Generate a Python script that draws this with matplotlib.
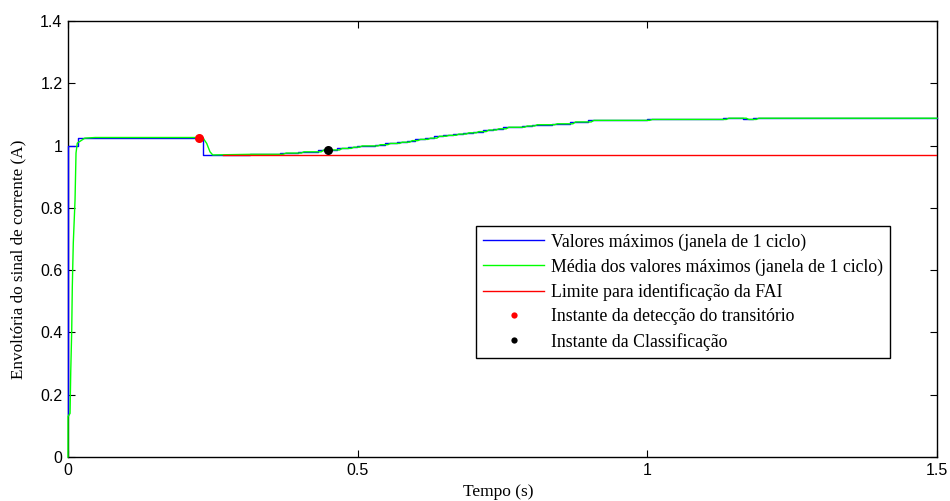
import numpy as np
import matplotlib.pyplot as plt
from matplotlib.lines import Line2D

# envelope maxima per cycle (blue), step start times and levels
t_max = [0.0, 0.0, 0.0168, 0.2307, 0.2336, 0.2336, 0.3142, 0.366, 0.3976, 0.4321,
         0.4638, 0.484, 0.4983, 0.530, 0.5472, 0.5674, 0.5847, 0.599, 0.6163,
         0.6318, 0.6479, 0.6651, 0.6824, 0.6996, 0.7169, 0.7342, 0.7514, 0.7832,
         0.8004, 0.835, 0.8666, 0.8982, 0.999, 1.1312, 1.1657, 1.183, 1.5]
v_max = [0.135, 1.0, 1.026, 1.026, 1.0, 0.970, 0.972, 0.976, 0.980, 0.986,
         0.991, 0.995, 0.999, 1.003, 1.007, 1.011, 1.016, 1.020, 1.024,
         1.030, 1.033, 1.037, 1.041, 1.045, 1.050, 1.054, 1.059, 1.063,
         1.067, 1.070, 1.076, 1.081, 1.084, 1.088, 1.084, 1.088, 1.088]

# mean of the maxima (green)
t_med = [0.0, 0.0, 0.0035, 0.0047, 0.0064, 0.0074, 0.0091, 0.0121, 0.0138, 0.016,
         0.029, 0.047, 0.2325, 0.2394, 0.2451, 0.2498, 0.3142, 0.371, 0.3766, 0.4026,
         0.4071, 0.4371, 0.4416, 0.4688, 0.4733, 0.4890, 0.4935, 0.5033, 0.5078,
         0.5350, 0.5395, 0.5522, 0.5567, 0.5724, 0.5769, 0.5897, 0.5942, 0.6040,
         0.6085, 0.6213, 0.6258, 0.6368, 0.6413, 0.6529, 0.6574, 0.6701, 0.6746,
         0.6874, 0.6919, 0.7046, 0.7091, 0.7219, 0.7264, 0.7392, 0.7437, 0.7564,
         0.7609, 0.7882, 0.7927, 0.8054, 0.8099, 0.840, 0.8445, 0.8716, 0.8761,
         0.9032, 0.9077, 1.004, 1.0085, 1.1362, 1.1407, 1.1707, 1.1752, 1.188,
         1.1925, 1.5]
v_med = [0.0, 0.13, 0.14, 0.274, 0.408, 0.547, 0.687, 0.825, 0.976, 1.008,
         1.024, 1.026, 1.026, 1.007, 0.980, 0.970, 0.972, 0.972, 0.976, 0.976,
         0.980, 0.980, 0.986, 0.986, 0.991, 0.991, 0.995, 0.995, 0.999,
         0.999, 1.003, 1.003, 1.007, 1.007, 1.011, 1.011, 1.016, 1.016,
         1.020, 1.020, 1.024, 1.024, 1.030, 1.030, 1.033, 1.033, 1.037,
         1.037, 1.041, 1.041, 1.045, 1.045, 1.050, 1.050, 1.054, 1.054,
         1.059, 1.059, 1.063, 1.063, 1.067, 1.067, 1.070, 1.070, 1.076,
         1.076, 1.081, 1.081, 1.084, 1.084, 1.088, 1.088, 1.084, 1.084,
         1.088, 1.088]

t_lim = [0.268, 1.5]
v_lim = [0.970, 0.970]

t_det, v_det = 0.226, 1.026
t_cls, v_cls = 0.449, 0.987

fig = plt.figure(figsize=(9.5, 5.01), dpi=100)
ax = fig.add_axes([0.0716, 0.0878, 0.9147, 0.8702])

ax.step(t_max, v_max, where='post', color='#0000ff', lw=1.0, zorder=3, clip_on=False)
ax.plot(t_med, v_med, color='#00ff00', lw=1.0, zorder=3, clip_on=False)
ax.plot(t_lim, v_lim, color='#ff0000', lw=1.0, zorder=3)
ax.plot(t_det, v_det, 'o', color='#ff0000', ms=6.5, mec='none', zorder=4)
ax.plot(t_cls, v_cls, 'o', color='black', ms=6.5, mec='none', zorder=4)

ax.set_xlim(0, 1.5)
ax.set_ylim(0, 1.4)
ax.set_xticks([0, 0.5, 1, 1.5])
ax.set_xticklabels(['0', '0.5', '1', '1.5'])
ax.set_yticks(np.arange(0, 1.41, 0.2))
ax.set_yticklabels(['0', '0.2', '0.4', '0.6', '0.8', '1', '1.2', '1.4'])
ax.tick_params(direction='in', top=True, right=True, length=5, width=0.8,
               labelsize=11.5, pad=4)
for lab in ax.get_xticklabels() + ax.get_yticklabels():
    lab.set_family('Liberation Sans')
for s in ax.spines.values():
    s.set_linewidth(1.0)

ax.set_xlabel('Tempo (s)', family='Liberation Serif', fontsize=12.5)
ax.set_ylabel('Envoltória do sinal de corrente (A)', family='Liberation Serif',
              fontsize=12.3)
ax.xaxis.set_label_coords(0.495, -0.062)
ax.yaxis.set_label_coords(-0.0483, 0.454)

handles = [
    Line2D([], [], color='#0000ff', lw=1.0),
    Line2D([], [], color='#00ff00', lw=1.0),
    Line2D([], [], color='#ff0000', lw=1.0),
    Line2D([], [], marker='o', ls='none', color='#ff0000', ms=4.5, mec='none'),
    Line2D([], [], marker='o', ls='none', color='black', ms=4.5, mec='none'),
]
labels = ['Valores máximos (janela de 1 ciclo)',
          'Média dos valores máximos (janela de 1 ciclo)',
          'Limite para identificação da FAI',
          'Instante da detecção do transitório',
          'Instante da Classificação']
leg = ax.legend(handles, labels, loc='upper left', bbox_to_anchor=(0.4695, 0.530),
                prop={'family': 'Liberation Serif', 'size': 12.8},
                fancybox=False, framealpha=1, edgecolor='black',
                handlelength=3.4, handletextpad=0.4, labelspacing=0.42,
                borderpad=0.42, borderaxespad=0)
leg.get_frame().set_linewidth(1.0)

fig.savefig('out.png', dpi=100)
